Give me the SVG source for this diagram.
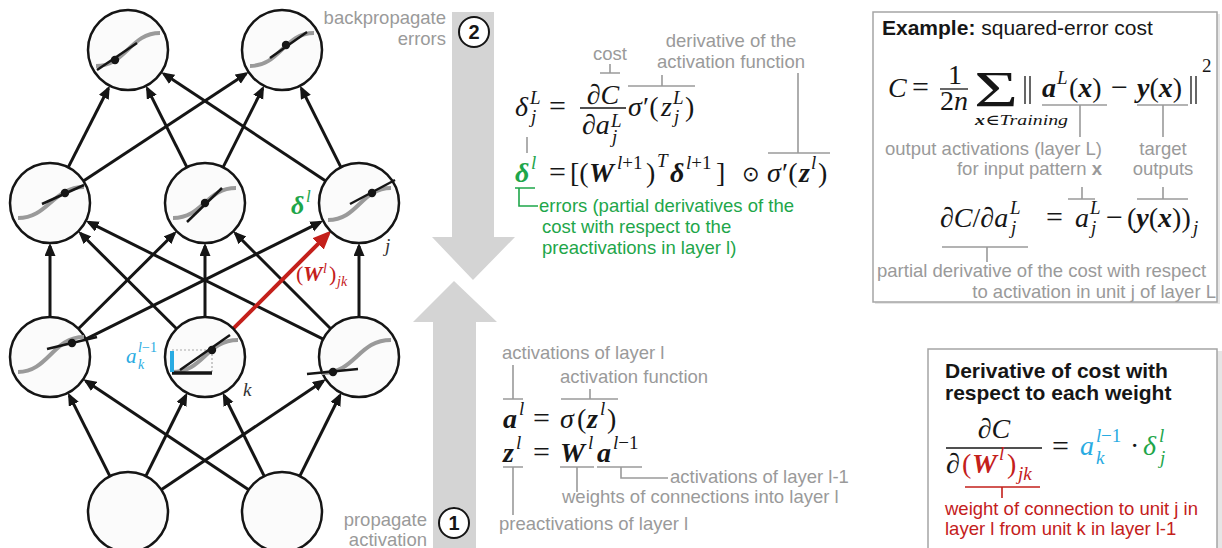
<svg xmlns="http://www.w3.org/2000/svg" width="1222" height="548" viewBox="0 0 1222 548">
<style>
.ann{font-family:"Liberation Sans",Arial,sans-serif;font-size:18.5px;fill:#9a9a9a}
.m{font-family:"Liberation Serif","DejaVu Serif",serif;font-size:28px;fill:#161616}
.eq{font-size:30px}
.i{font-style:italic}
.b{font-weight:bold;font-style:italic}
.s{font-size:19px}
.br{stroke:#9a9a9a;stroke-width:1.6;fill:none}
.fr{stroke:#161616;stroke-width:1.3}
.edge{stroke:#151515;stroke-width:3;fill:none;marker-end:url(#ah)}
.node{fill:#fbfbfb;stroke:#151515;stroke-width:2.5}
.sig{stroke:#9a9a9a;stroke-width:4;fill:none}
.tan{stroke:#151515;stroke-width:2.5}
.big{fill:#d4d4d4}
.num{fill:#fff;stroke:#151515;stroke-width:2}
.numt{font-family:"Liberation Sans",Arial,sans-serif;font-size:20px;font-weight:bold;fill:#151515;text-anchor:middle}
.box{fill:#fff;stroke:#a5a5a5;stroke-width:1.5}
.ttl{font-family:"Liberation Sans",Arial,sans-serif;font-size:21px;fill:#161616}
.gr{fill:#1ea64a}
.rd{fill:#c4201b}
.bl{fill:#29abe2}
</style>
<defs>
<marker id="ah" markerUnits="userSpaceOnUse" markerWidth="14" markerHeight="12" refX="10" refY="5.5" orient="auto"><path d="M0,0 L13,5.5 L0,11 z" fill="#151515"/></marker>
<marker id="ahr" markerUnits="userSpaceOnUse" markerWidth="20" markerHeight="18" refX="14" refY="8" orient="auto"><path d="M0,0 L19,8 L0,16 z" fill="#c4201b"/></marker>
</defs>

<!-- big gray arrows -->
<g id="arrow-back">
<polygon class="big" points="452,12 494,12 494,237 515,237 473,280 432,237 452,237"/>
<circle class="num" cx="474" cy="32" r="15"/>
<text class="numt" x="474" y="39">2</text>
<text class="ann" x="446" y="24" text-anchor="end">backpropagate</text>
<text class="ann" x="446" y="45" text-anchor="end">errors</text>
</g>
<g id="arrow-forward">
<polygon class="big" points="454,281 497,322 476,322 476,548 433,548 433,322 413,322"/>
<circle class="num" cx="454" cy="523" r="15"/>
<text class="numt" x="454" y="530">1</text>
<text class="ann" x="427" y="526" text-anchor="end">propagate</text>
<text class="ann" x="427" y="546" text-anchor="end">activation</text>
</g>

<!-- connectors -->
<g id="connectors">
<line class="edge" x1="110" y1="476.3" x2="69.3" y2="395.4"/>
<line class="edge" x1="145.8" y1="476.2" x2="185.9" y2="395.5"/>
<line class="edge" x1="161.2" y1="489.7" x2="323.3" y2="381"/>
<line class="edge" x1="248.7" y1="489.8" x2="85.8" y2="380.9"/>
<line class="edge" x1="264.2" y1="476.2" x2="224.1" y2="395.5"/>
<line class="edge" x1="299.8" y1="476.2" x2="339.9" y2="395.5"/>
<line class="edge" x1="50" y1="317" x2="50" y2="246"/>
<line class="edge" x1="78.4" y1="328.8" x2="174.5" y2="233.3"/>
<line class="edge" x1="85.8" y1="339.2" x2="320.5" y2="222.1"/>
<line class="edge" x1="176.6" y1="328.8" x2="80.5" y2="233.3"/>
<line class="edge" x1="205" y1="317" x2="205" y2="246"/>
<line class="edge" x1="323.2" y1="339.2" x2="88.5" y2="222.1"/>
<line class="edge" x1="330.7" y1="328.7" x2="235.4" y2="233.4"/>
<line class="edge" x1="359" y1="317" x2="359" y2="246"/>
<line class="edge" x1="68.2" y1="167.4" x2="108.4" y2="88.3"/>
<line class="edge" x1="83.4" y1="181" x2="246.1" y2="73.7"/>
<line class="edge" x1="187" y1="167.3" x2="147.3" y2="88.4"/>
<line class="edge" x1="223" y1="167.3" x2="262.7" y2="88.4"/>
<line class="edge" x1="325.7" y1="180.9" x2="163.8" y2="73.8"/>
<line class="edge" x1="341" y1="167.3" x2="301.4" y2="88.4"/>
<line x1="233.3" y1="328.7" x2="327.9" y2="234.1" stroke="#c4201b" stroke-width="4" marker-end="url(#ahr)"/>
</g>

<!-- nodes -->
<g id="node-t1">
<circle class="node" cx="128" cy="50" r="40"/>
<path class="sig" d="M96,66 C126,66 130,33 160,33"/>
<line class="tan" x1="97" y1="70" x2="137" y2="43"/>
<circle cx="115" cy="60" r="4.2" fill="#151515"/>
</g>
<g id="node-t2">
<circle class="node" cx="282" cy="50" r="40"/>
<path class="sig" d="M250,66 C280,66 284,33 314,33"/>
<line class="tan" x1="270" y1="58" x2="307" y2="32"/>
<circle cx="286" cy="45" r="4.2" fill="#151515"/>
</g>
<g id="node-m1">
<circle class="node" cx="50" cy="203" r="40"/>
<path class="sig" d="M18,218 C48,218 53,187 84,187"/>
<line class="tan" x1="42" y1="204" x2="84" y2="185"/>
<circle cx="65" cy="193" r="4.2" fill="#151515"/>
</g>
<g id="node-m2">
<circle class="node" cx="205" cy="203" r="40"/>
<path class="sig" d="M173,218 C203,218 206,188 236,188"/>
<line class="tan" x1="187" y1="222" x2="222" y2="188"/>
<circle cx="205" cy="203" r="4.2" fill="#151515"/>
</g>
<g id="node-m3">
<circle class="node" cx="359" cy="203" r="40"/>
<path class="sig" d="M328,220 C358,220 361,188 391,188"/>
<line class="tan" x1="350" y1="204" x2="395" y2="180"/>
<circle cx="372" cy="193" r="4.2" fill="#151515"/>
</g>
<g id="node-l1">
<circle class="node" cx="50" cy="357" r="40"/>
<path class="sig" d="M18,372 C48,372 53,337 84,337"/>
<line class="tan" x1="47" y1="349" x2="97" y2="337"/>
<circle cx="72" cy="343" r="4.2" fill="#151515"/>
</g>
<g id="node-l2">
<circle class="node" cx="205" cy="357" r="40"/>
<path class="sig" d="M172,372 C204,372 206,340 238,340"/>
<path d="M172,350 H212 V373" stroke="#aaa" stroke-width="1.2" stroke-dasharray="2,2" fill="none"/>
<line x1="172" y1="373" x2="212" y2="373" stroke="#151515" stroke-width="3.5"/>
<line x1="172" y1="351" x2="172" y2="372" stroke="#29abe2" stroke-width="4"/>
<line class="tan" x1="180" y1="370" x2="230" y2="335"/>
<circle cx="212" cy="350" r="4.2" fill="#151515"/>
</g>
<g id="node-l3">
<circle class="node" cx="359" cy="357" r="40"/>
<path class="sig" d="M322,373 C356,373 358,340 391,340"/>
<line class="tan" x1="307" y1="374" x2="358" y2="369"/>
<circle cx="333" cy="372" r="4.2" fill="#151515"/>
</g>
<g id="node-b1"><circle class="node" cx="128" cy="512" r="40"/></g>
<g id="node-b2"><circle class="node" cx="282" cy="512" r="40"/></g>

<!-- network labels -->
<g id="net-labels">
<text class="m b gr" x="291" y="214" style="font-size:26px">δ</text>
<text class="m i gr" x="306" y="202" style="font-size:17px">l</text>
<text class="m rd" x="296" y="281" style="font-size:22px">(</text>
<text class="m b rd" x="303" y="281" style="font-size:22px">W</text>
<text class="m i rd" x="323" y="273" style="font-size:14px">l</text>
<text class="m rd" x="329" y="281" style="font-size:22px">)</text>
<text class="m i rd" x="337" y="286" style="font-size:14px">jk</text>
<text class="m i" x="385" y="252" style="font-size:19px;fill:#333">j</text>
<text class="m i" x="243" y="396" style="font-size:19px;fill:#333">k</text>
<text class="m i bl" x="126" y="363" style="font-size:21px">a</text>
<text class="m i bl" x="138" y="352" style="font-size:14px">l</text>
<text class="m bl" x="142" y="352" style="font-size:14px">−1</text>
<text class="m i bl" x="138" y="369" style="font-size:14px">k</text>
</g>

<!-- backprop equations -->
<g id="eq-backprop">
<text class="ann" x="610" y="60" text-anchor="middle">cost</text>
<path class="br" d="M610,64 V73 M600,73 H620"/>
<text class="ann" x="731" y="47" text-anchor="middle">derivative of the</text>
<text class="ann" x="731" y="68" text-anchor="middle">activation function</text>
<path class="br" d="M662,75 V86 M628,86 H695"/>
<path class="br" d="M798,73 V153 M768,153 H830"/>
<path class="br" d="M527,137 V153"/>

<text class="m i" x="515" y="116">δ</text>
<text class="m i s" x="530" y="104">L</text>
<text class="m i s" x="531" y="123">j</text>
<text class="m eq" x="549" y="116">=</text>
<text class="m" x="603" y="104" text-anchor="middle">∂<tspan class="i">C</tspan></text>
<line class="fr" x1="580" y1="108" x2="626" y2="108"/>
<text class="m" x="582" y="134">∂<tspan class="i">a</tspan></text>
<text class="m i s" x="611" y="127">L</text>
<text class="m i s" x="612" y="143">j</text>
<text class="m i" x="628" y="116">σ</text>
<text class="m" x="643" y="116">′(</text>
<text class="m i" x="661" y="116">z</text>
<text class="m i s" x="673" y="104">L</text>
<text class="m i s" x="674" y="123">j</text>
<text class="m" x="685" y="116">)</text>

<text class="m b gr" x="515" y="182">δ</text>
<text class="m i gr s" x="531" y="169">l</text>
<text class="m eq" x="549" y="182">=</text>
<text class="m" x="570" y="182">[(</text>
<text class="m b" x="589" y="182">W</text>
<text class="m s" x="617" y="169"><tspan class="i">l</tspan>+1</text>
<text class="m" x="646" y="182">)</text>
<text class="m i s" x="657" y="167">T</text>
<text class="m b" x="670" y="182">δ</text>
<text class="m s" x="686" y="169"><tspan class="i">l</tspan>+1</text>
<text class="m" x="716" y="182">]</text>
<text class="m" x="742" y="181" style="font-family:'DejaVu Sans',sans-serif;font-size:21px">⊙</text>
<text class="m i" x="767" y="182">σ</text>
<text class="m" x="782" y="182">′(</text>
<text class="m b" x="799" y="182">z</text>
<text class="m i s" x="811" y="169">l</text>
<text class="m" x="818" y="182">)</text>

<path d="M515,188 H535 M519,188 V206 H538" stroke="#1ea64a" stroke-width="1.6" fill="none"/>
<text class="ann gr" x="539" y="212">errors (partial derivatives of the</text>
<text class="ann gr" x="542" y="233">cost with respect to the</text>
<text class="ann gr" x="542" y="254">preactivations in layer l)</text>
</g>

<!-- forward equations -->
<g id="eq-forward">
<text class="ann" x="502" y="359">activations of layer l</text>
<path class="br" d="M513,365 V399 M503,399 H523"/>
<text class="ann" x="560" y="383">activation function</text>
<path class="br" d="M590,389 V399 M561,399 H618"/>
<text class="m b" x="503" y="428">a</text>
<text class="m i s" x="519" y="415">l</text>
<text class="m eq" x="533" y="428">=</text>
<text class="m i" x="560" y="428">σ</text>
<text class="m" x="577" y="428">(</text>
<text class="m b" x="587" y="428">z</text>
<text class="m i s" x="600" y="415">l</text>
<text class="m" x="607" y="428">)</text>
<text class="m b" x="503" y="462">z</text>
<text class="m i s" x="516" y="449">l</text>
<text class="m eq" x="533" y="462">=</text>
<text class="m b" x="560" y="462">W</text>
<text class="m i s" x="588" y="449">l</text>
<text class="m b" x="597" y="462">a</text>
<text class="m s" x="613" y="449"><tspan class="i">l</tspan>−1</text>
<path class="br" d="M503,467 H523 M513,467 V515 M560,467 H594 M577,467 V492 M597,467 H642 M621,467 V478 H668"/>
<text class="ann" x="670" y="483">activations of layer l-1</text>
<text class="ann" x="562" y="503">weights of connections into layer l</text>
<text class="ann" x="499" y="530">preactivations of layer l</text>
</g>

<!-- example box -->
<g id="example-box">
<rect x="875" y="14" width="345" height="290" fill="#e6e6e6"/>
<rect class="box" x="873" y="12" width="344" height="290"/>
<text class="ttl" x="882" y="35"><tspan font-weight="bold">Example:</tspan> squared-error cost</text>
<text class="m i" x="888" y="97">C</text>
<text class="m eq" x="912" y="97">=</text>
<text class="m" x="955" y="84" text-anchor="middle">1</text>
<line class="fr" x1="940" y1="89" x2="968" y2="89"/>
<text class="m" x="954" y="110" text-anchor="middle">2<tspan class="i">n</tspan></text>
<text class="m" x="974" y="106" style="font-size:51px" textLength="44" lengthAdjust="spacingAndGlyphs">Σ</text>
<text class="m" x="975" y="125" style="font-size:15px" textLength="93" lengthAdjust="spacingAndGlyphs"><tspan class="b">x</tspan>∈<tspan class="i">Training</tspan></text>
<path d="M1025,76 V104 M1030,76 V104 M1191,76 V104 M1196,76 V104" stroke="#161616" stroke-width="1.3"/>
<text class="m b" x="1042" y="97">a</text>
<text class="m i s" x="1057" y="84">L</text>
<text class="m" x="1069" y="97">(<tspan class="b">x</tspan>)</text>
<text class="m eq" x="1111" y="97">−</text>
<text class="m" x="1137" y="97"><tspan class="b">y</tspan>(<tspan class="b">x</tspan>)</text>
<text class="m s" x="1202" y="72">2</text>
<path class="br" d="M1042,105 H1107 M1080,105 V137 M1137,105 H1188 M1163,105 V137"/>
<text class="ann" x="1102" y="155" text-anchor="end">output activations (layer L)</text>
<text class="ann" x="1102" y="175" text-anchor="end">for input pattern <tspan font-weight="bold">x</tspan></text>
<text class="ann" x="1163" y="155" text-anchor="middle">target</text>
<text class="ann" x="1163" y="175" text-anchor="middle">outputs</text>
<path class="br" d="M1082,187 V199 M1068,199 H1095 M1163,187 V199 M1137,199 H1188"/>
<text class="m" x="940" y="227">∂<tspan class="i">C</tspan>/∂<tspan class="i">a</tspan></text>
<text class="m i s" x="1010" y="214">L</text>
<text class="m i s" x="1011" y="234">j</text>
<text class="m eq" x="1046" y="227">=</text>
<text class="m i" x="1075" y="227">a</text>
<text class="m i s" x="1090" y="214">L</text>
<text class="m i s" x="1091" y="234">j</text>
<text class="m eq" x="1106" y="227">−</text>
<text class="m" x="1127" y="227">(<tspan class="b">y</tspan>(<tspan class="b">x</tspan>))</text>
<text class="m i s" x="1193" y="234">j</text>
<path class="br" d="M942,247 H1028 M987,247 V262"/>
<text class="ann" x="877" y="277">partial derivative of the cost with respect</text>
<text class="ann" x="1216" y="298" text-anchor="end">to activation in unit j of layer L</text>
</g>

<!-- derivative box -->
<g id="derivative-box">
<rect x="930" y="351" width="300" height="210" fill="#e6e6e6"/>
<rect class="box" x="928" y="349" width="289" height="210"/>
<text class="ttl" x="945" y="378" font-weight="bold">Derivative of cost with</text>
<text class="ttl" x="945" y="400" font-weight="bold">respect to each weight</text>
<text class="m" x="994" y="438" text-anchor="middle">∂<tspan class="i">C</tspan></text>
<line class="fr" x1="946" y1="448" x2="1042" y2="448"/>
<text class="m" x="946" y="473">∂</text>
<text class="m rd" x="962" y="473">(</text>
<text class="m b rd" x="972" y="473">W</text>
<text class="m i rd s" x="999" y="460">l</text>
<text class="m rd" x="1007" y="473">)</text>
<text class="m i rd s" x="1018" y="480">jk</text>
<text class="m eq" x="1052" y="456">=</text>
<text class="m i bl" x="1080" y="455">a</text>
<text class="m i bl s" x="1096" y="442">l</text>
<text class="m bl s" x="1101" y="442">−1</text>
<text class="m i bl s" x="1096" y="464">k</text>
<text class="m" x="1130" y="455">·</text>
<text class="m i gr" x="1143" y="455">δ</text>
<text class="m i gr s" x="1159" y="442">l</text>
<text class="m i gr s" x="1160" y="464">j</text>
<path d="M965,487 H1040 M1002,487 V498" stroke="#c4201b" stroke-width="1.6" fill="none"/>
<text class="ann rd" x="945" y="515">weight of connection to unit j in</text>
<text class="ann rd" x="945" y="535">layer l from unit k in layer l-1</text>
</g>
</svg>
